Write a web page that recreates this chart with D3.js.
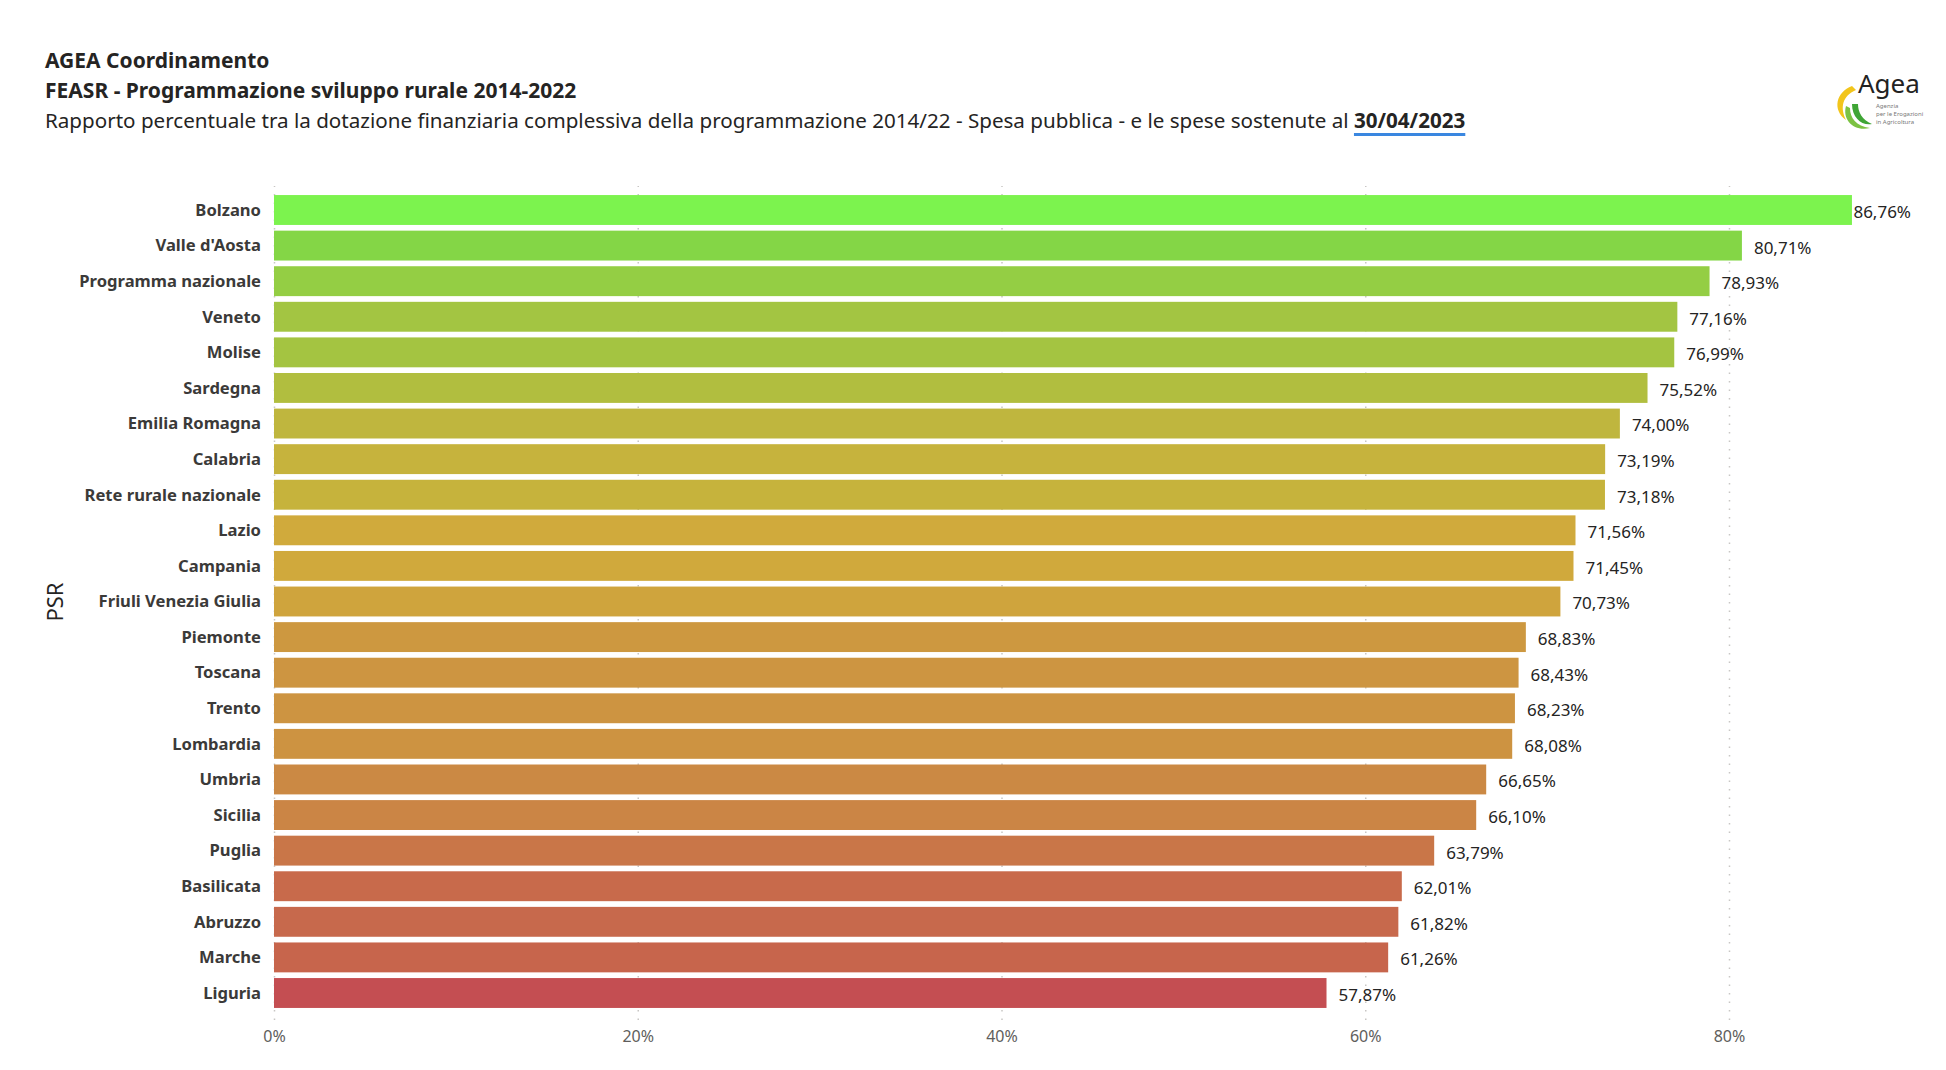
<!DOCTYPE html>
<html>
<head>
<meta charset="utf-8">
<script src="https://cdn.jsdelivr.net/npm/d3@7"></script>
<style>
  body { margin: 0; background: #fff; }
  text { font-family: "Segoe UI", "Noto Sans", sans-serif; }
</style>
</head>
<body>
<div id="chart"></div>
<script>
// data
let regions = ["Bolzano", "Valle d'Aosta", "Programma nazionale", "Veneto", "Molise", "Sardegna",
    "Emilia Romagna", "Calabria", "Rete rurale nazionale", "Lazio", "Campania", "Friuli Venezia Giulia",
    "Piemonte", "Toscana", "Trento", "Lombardia", "Umbria", "Sicilia", "Puglia", "Basilicata",
    "Abruzzo", "Marche", "Liguria"];
let percents = [86.76, 80.71, 78.93, 77.16, 76.99, 75.52, 74.00, 73.19, 73.18, 71.56, 71.45, 70.73,
    68.83, 68.43, 68.23, 68.08, 66.65, 66.10, 63.79, 62.01, 61.82, 61.26, 57.87];
let xTicks = [0, 20, 40, 60, 80];

let width = 1946;
let height = 1070;

let svg = d3.select("#chart")
            .append("svg")
            .attr("width", width)
            .attr("height", height);

// titles
svg.append("text")
    .attr("x", 45).attr("y", 68)
    .attr("font-size", 21).attr("font-weight", "bold").attr("fill", "#252423")
    .text("AGEA Coordinamento");

svg.append("text")
    .attr("x", 45).attr("y", 98)
    .attr("font-size", 21).attr("font-weight", "bold").attr("fill", "#252423")
    .text("FEASR - Programmazione sviluppo rurale 2014-2022");

let sub = svg.append("text")
    .attr("x", 45).attr("y", 128)
    .attr("font-size", 20.6).attr("fill", "#252423");
sub.append("tspan").text("Rapporto percentuale tra la dotazione finanziaria complessiva della programmazione 2014/22 - Spesa pubblica - e le spese sostenute al ");
sub.append("tspan").attr("font-weight", "bold").text("30/04/2023");

// blue underline under the date
let subBox = sub.node().getBBox();
let dateStart = sub.node().getSubStringLength(0, sub.node().getNumberOfChars() - 10);
svg.append("rect")
    .attr("x", 45 + dateStart)
    .attr("y", 133)
    .attr("width", subBox.width - dateStart)
    .attr("height", 3)
    .attr("fill", "#3a87e0");

// scales
let xScale = d3.scaleLinear()
                .domain([0, 80])
                .range([274, 1729]);

let yScale = d3.scaleBand()
                .domain(regions)
                .range([189, 1014])
                .paddingInner(0.16)
                .paddingOuter(0.17);

let colorScale = d3.scaleLinear()
                .domain([d3.min(percents), 72, 80.71, d3.max(percents)])
                .range(["#c44e52", "#d0ad3b", "#84d646", "#7cf34e"]);

// dotted gridlines + tick labels
let xAxis = d3.axisBottom(xScale)
                .tickValues(xTicks)
                .tickSize(-(1020 - 186))
                .tickFormat(d => d + "%");

let axisG = svg.append("g")
    .attr("transform", "translate(0, 1020)")
    .call(xAxis);
axisG.select(".domain").remove();
axisG.selectAll(".tick line")
    .attr("stroke", "#c8c6c4")
    .attr("stroke-width", 1.5)
    .attr("stroke-dasharray", "1.5,7");
axisG.selectAll(".tick text")
    .attr("y", 17)
    .attr("dy", "0.32em")
    .attr("font-size", 16)
    .attr("font-family", "'Segoe UI', 'Noto Sans', sans-serif")
    .attr("fill", "#605e5c");

// category labels
svg.append("g").selectAll("text")
    .data(regions)
    .enter()
    .append("text")
    .attr("x", 261)
    .attr("y", d => yScale(d) + yScale.bandwidth() / 2)
    .attr("dy", "0.35em")
    .attr("text-anchor", "end")
    .attr("font-size", 16.6)
    .attr("font-weight", "bold")
    .attr("fill", "#3b3a39")
    .text(d => d);

// bars
svg.append("g").selectAll("rect")
    .data(percents)
    .enter()
    .append("rect")
    .attr("x", xScale(0))
    .attr("y", (d, i) => yScale(regions[i]))
    .attr("width", d => xScale(d) - xScale(0))
    .attr("height", yScale.bandwidth())
    .attr("fill", d => colorScale(d));

// value labels
let fmt = d => d.toFixed(2).replace(".", ",") + "%";
let valueLabels = svg.append("g").selectAll("text")
    .data(percents)
    .enter()
    .append("text")
    .attr("y", (d, i) => yScale(regions[i]) + yScale.bandwidth() / 2 + 2)
    .attr("dy", "0.35em")
    .attr("font-size", 17)
    .attr("fill", "#252423")
    .text(d => fmt(d));

valueLabels.each(function(d) {
    let w = this.getComputedTextLength();
    let x = Math.min(xScale(d) + 12, 1911 - w);
    d3.select(this).attr("x", x);
});

// axis title
svg.append("text")
    .attr("transform", "translate(63, 602) rotate(-90)")
    .attr("text-anchor", "middle")
    .attr("font-size", 22)
    .attr("fill", "#252423")
    .text("PSR");

// Agea logo
let logo = svg.append("g");
logo.append("path")
    .attr("d", "M1852,86 C1836,92 1832,110 1846,120 C1840,108 1842,96 1856,90 Z")
    .attr("fill", "#f2c51b");
logo.append("path")
    .attr("d", "M1846,106 C1842,120 1854,132 1870,128 C1856,126 1850,118 1850,108 Z")
    .attr("fill", "#7cc242");
logo.append("path")
    .attr("d", "M1852,104 C1852,118 1862,126 1872,124 C1862,120 1858,112 1858,104 Z")
    .attr("fill", "#3fa535");
logo.append("text")
    .attr("x", 1858).attr("y", 93)
    .attr("font-size", 26)
    .attr("font-family", "'Noto Sans', sans-serif")
    .attr("fill", "#222")
    .text("Agea");
["Agenzia", "per le Erogazioni", "in Agricoltura"].forEach((t, i) => {
    logo.append("text")
        .attr("x", 1876).attr("y", 108 + i * 8)
        .attr("font-size", 6)
        .attr("fill", "#777")
        .text(t);
});
</script>
</body>
</html>
